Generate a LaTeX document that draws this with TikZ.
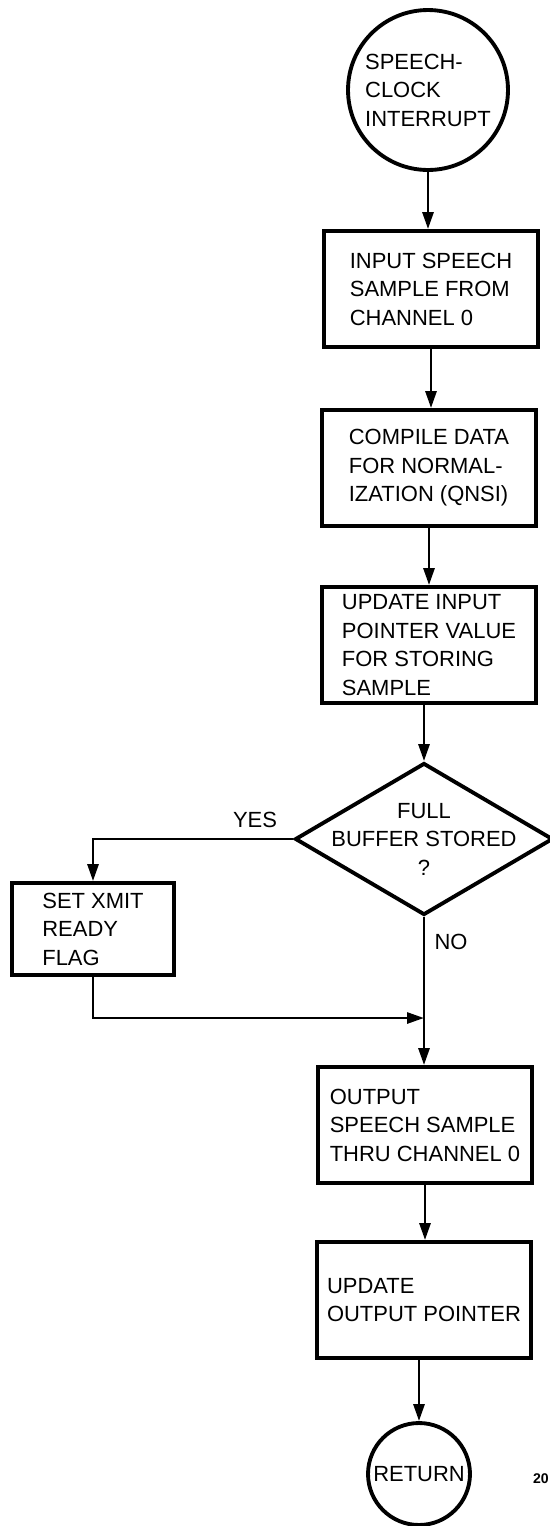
\documentclass[tikz,border=0pt]{standalone}
\usepackage{fontspec}
\setmainfont{Liberation Sans}
\usetikzlibrary{shapes.geometric,arrows.meta}

\begin{document}
\begin{tikzpicture}[x=0.02cm,y=-0.02cm,
        every node/.style={font=\fontsize{12.5}{16.2}\selectfont},
        procbox/.style={draw, line width=2.2pt, rectangle, minimum width=4.28cm, minimum height=2.32cm, align=left, inner sep=0pt},
        termcircle/.style={draw, line width=2.2pt, circle, inner sep=0pt, align=left},
        decision/.style={draw, line width=2.2pt, diamond, minimum width=5.16cm, minimum height=3.04cm, inner sep=0pt},
        flow/.style={line width=1.6pt, -{Triangle[length=0.34cm,width=0.22cm]}}]

        \useasboundingbox (0,0) rectangle (550,1526);

        % --- MAIN COLUMN ---
        \node[termcircle, minimum size=3.2cm] (start) at (428,90) {SPEECH-\\CLOCK\\INTERRUPT};
        \node[procbox] (inbox) at (431,289) {INPUT SPEECH\\SAMPLE FROM\\CHANNEL 0};
        \node[procbox] (compile) at (429,468) {COMPILE DATA\\FOR NORMAL-\\IZATION (QNSI)};
        \node[procbox] (pointer) at (429,645) {UPDATE INPUT\\POINTER VALUE\\FOR STORING\\SAMPLE};
        \node[decision] (full) at (424,839) {};
        \node[align=center] (fulltext) at (full) {FULL\\BUFFER STORED\\?};
        \node[procbox] (output) at (425,1125) {OUTPUT\\SPEECH SAMPLE\\THRU CHANNEL 0};
        \node[procbox] (outptr) at (424,1300) {UPDATE\\OUTPUT POINTER};
        \node[termcircle, minimum size=2.04cm] (ret) at (419,1474) {RETURN};

        % --- YES BRANCH ---
        \node[procbox, minimum width=3.24cm, minimum height=1.84cm] (flag) at (93,929) {SET XMIT\\READY\\FLAG};
        \coordinate (merge) at (424,1018);

        % Labels
        \node (yes) at (255,820) {YES};
        \node (no) at (451,942) {NO};
        \node[anchor=west, inner sep=1pt, font=\bfseries\fontsize{8}{9}\selectfont] (pagenum) at (531,1479) {20};

        % Connectors
        \draw[flow] (start) -- (start |- inbox.north);
        \draw[flow] (inbox) -- (inbox |- compile.north);
        \draw[flow] (compile) -- (compile |- pointer.north);
        \draw[flow] (pointer.south -| full.north) -- (full.north);
        \draw[flow] (full.west) -| (flag.north);
        \draw[flow] (full.south) -- (full.south |- output.north);
        \draw[flow] (flag.south) |- (merge);
        \draw[flow] (output) -- (output |- outptr.north);
        \draw[flow] (outptr.south -| ret) -- (ret.north);
    \end{tikzpicture}
\end{document}
